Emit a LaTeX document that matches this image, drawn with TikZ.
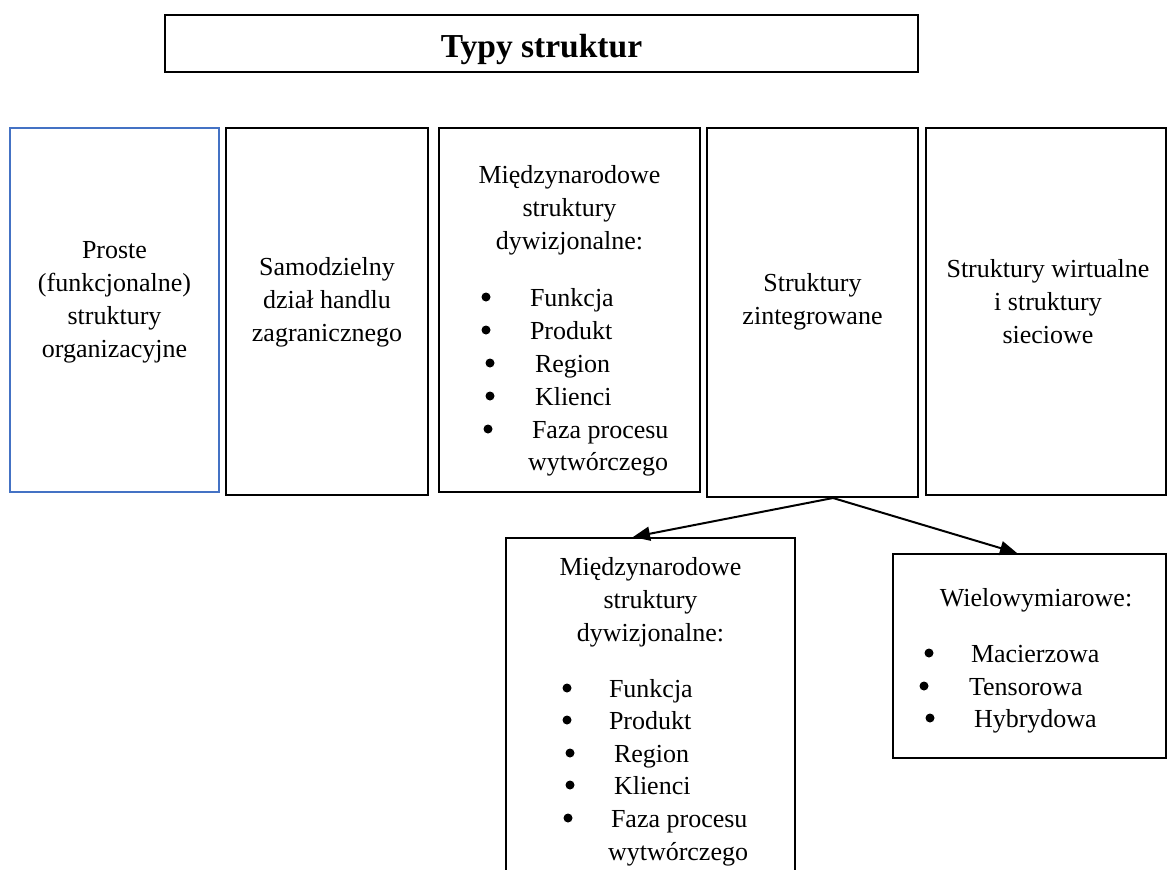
\documentclass[tikz,border=0pt]{standalone}
\usepackage{fontspec}
\setmainfont{Liberation Serif}
\usepackage{xcolor}
\usetikzlibrary{arrows.meta,positioning}

\definecolor{wordblue}{RGB}{68,114,196}

\begin{document}
\begin{tikzpicture}[
  x=1pt,y=-1pt,
  box/.style={draw, line width=2pt, inner sep=0pt},
  txt/.style={align=center, inner sep=0pt, font=\fontsize{26}{33}\selectfont},
  item/.style={anchor=base west, inner sep=0pt, font=\fontsize{26}{33}\selectfont},
  head/.style={anchor=base, inner sep=0pt, font=\fontsize{26}{33}\selectfont},
  bul/.style={circle, fill, inner sep=0pt, minimum size=9pt},
  >={Triangle[length=17pt,width=14pt]}, line width=2pt
]
\useasboundingbox (0,0) rectangle (1168,870);
\clip (0,0) rectangle (1168,870);

% title
\node[box, minimum width=753pt, minimum height=57pt] (typy) at (541.5,43.5) {};
\node[anchor=base, inner sep=0pt, font=\fontsize{33.5}{40}\selectfont\bfseries] (typy-txt) at (541.5,57) {Typy struktur};

% upper row
\node[box, draw=wordblue, line width=1.5pt, minimum width=209pt, minimum height=364pt] (proste) at (114.5,310) {};
\node[box, minimum width=202pt, minimum height=367pt] (dzial) at (327,311.5) {};
\node[box, minimum width=261pt, minimum height=364pt] (miedzy) at (569.5,310) {};
\node[box, minimum width=211pt, minimum height=369pt] (zint) at (812.5,312.5) {};
\node[box, minimum width=240pt, minimum height=367pt] (wirt) at (1046,311.5) {};

\node[txt] (proste-txt) at (114.5,302) {Proste\\(funkcjonalne)\\struktury\\organizacyjne};
\node[txt] (dzial-txt) at (327,302) {Samodzielny\\dział handlu\\zagranicznego};
\node[txt] (miedzy-txt) at (569.5,210.5) {Międzynarodowe\\struktury\\dywizjonalne:};
\node[txt] (zint-txt) at (812.5,302) {Struktury\\zintegrowane};
\node[txt] (wirt-txt) at (1048,302) {Struktury wirtualne\\i struktury\\sieciowe};

\foreach \bx/\tx/\y/\t [count=\i] in {486/529/306/Funkcja, 486/529/339/Produkt,
    490/534/372/Region, 490/534/405/Klienci, 488/531/438/Faza procesu}{
  \node[bul] (mb\i) at (\bx,\y-9) {};
  \node[item] (mi\i) at (\tx,\y) {\t};
}
\node[item] (mi6) at (527,470) {wytwórczego};

% lower row
\node[box, minimum width=289pt, minimum height=360pt] (miedzyB) at (650.5,718) {};
\node[box, minimum width=273pt, minimum height=204pt] (wielo) at (1029.5,656) {};

\node[txt] (miedzyB-txt) at (650.5,602) {Międzynarodowe\\struktury\\dywizjonalne:};
\foreach \bx/\tx/\y/\t [count=\i] in {567/608/697/Funkcja, 567/608/729/Produkt,
    570/613/762/Region, 570/613/794/Klienci, 568/610/827/Faza procesu}{
  \node[bul] (nb\i) at (\bx,\y-9) {};
  \node[item] (ni\i) at (\tx,\y) {\t};
}
\node[item] (ni6) at (607,860) {wytwórczego};

\node[head] (wielo-txt) at (1036,606) {Wielowymiarowe:};
\foreach \bx/\tx/\y/\t [count=\i] in {929/970/662/Macierzowa, 924/968/695/Tensorowa,
    930/973/727/Hybrydowa}{
  \node[bul] (wb\i) at (\bx,\y-9) {};
  \node[item] (wi\i) at (\tx,\y) {\t};
}

% arrows
\coordinate (split) at ([xshift=20.5pt]zint.south);
\draw[->] (split) -- ([xshift=-17.5pt]miedzyB.north);
\draw[->] (split) -- ([xshift=-12.5pt]wielo.north);
\end{tikzpicture}
\end{document}
